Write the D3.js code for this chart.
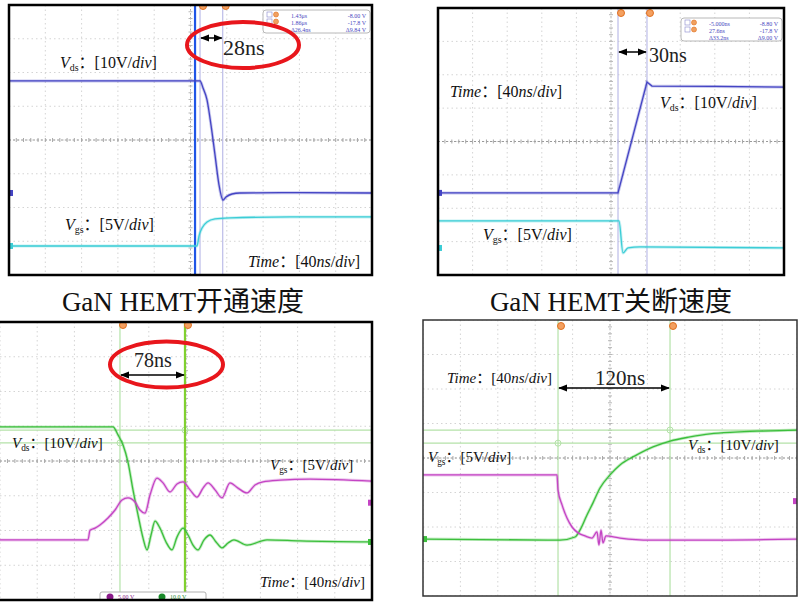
<!DOCTYPE html>
<html>
<head>
<meta charset="utf-8">
<script src="https://cdn.jsdelivr.net/npm/d3@7"></script>
<style>
  body { margin: 0; background: #fff; }
  svg { display: block; }
</style>
</head>
<body>
<div id="chart"></div>
<script>
// scope screens: time in ns (40 ns/div, 10 div), amplitude in screen divisions (8 div)
const captions = ["GaN HEMT开通速度", "GaN HEMT关断速度"];
const timeScale = "40";
const vdsScale = "10V";
const vgsScale = "5V";

// GaN HEMT turn-on, first scope
const onVds = [[-200, 1.75], [10.5, 1.75], [13.8, 1.54], [18.2, 1.19], [22.6, 0.44], [27, -0.44],
  [31.4, -1.33], [35.8, -1.78], [39.1, -1.69], [45.7, -1.6], [54.5, -1.57], [120, -1.56], [200, -1.57]];
const onVgs = [[-200, -3.14], [7.2, -3.14], [9.4, -2.84], [12.7, -2.61], [18.2, -2.43], [27, -2.34],
  [43.5, -2.31], [109.6, -2.28], [200, -2.28]];
const onCursors = [10.5, 35.5];
const onReadout = [["1.43μs", "-8.00 V"], ["1.86μs", "-17.8 V"], ["Δ26.4ns", "Δ9.84 V"]];

// GaN HEMT turn-off, first scope
const offVds = [[-200, -1.54], [8.1, -1.54], [41.6, 1.78], [47.4, 1.66], [120, 1.65], [200, 1.63]];
const offVgs = [[-200, -2.38], [9.2, -2.38], [13.9, -3.34], [19.7, -3.19], [33.5, -3.16], [200, -3.19]];
const offCursors = [8.1, 41.6];
const offReadout = [["-5.000ns", "-8.80 V"], ["27.6ns", "-17.8 V"], ["Δ33.2ns", "Δ9.00 V"]];

// turn-on, second scope (ringing)
const on2Vds = [[-200, 0.98], [-78.5, 0.98], [-73.1, 0.75], [-67.7, 0.46], [-62.4, -0.03], [-57, -0.83],
  [-51.6, -1.55], [-46.2, -2.22], [-41.9, -2.56], [-37.6, -2.13], [-33.3, -1.73], [-28, -1.93],
  [-21.5, -2.33], [-15.1, -2.56], [-9.7, -2.19], [-3.2, -1.93], [2.2, -2.13], [7.5, -2.42],
  [12.9, -2.56], [19.4, -2.27], [25.8, -2.13], [32.3, -2.33], [38.7, -2.5], [45.2, -2.36],
  [51.6, -2.27], [65.6, -2.42], [87.1, -2.27], [122.6, -2.3], [200, -2.33]];
const on2Vgs = [[-200, -2.27], [-105.4, -2.27], [-103.2, -1.99], [-97.8, -1.93], [-92.5, -1.84],
  [-83.9, -1.64], [-76.3, -1.41], [-68.8, -1.12], [-62.4, -1.06], [-54.8, -1.18], [-49.5, -1.41],
  [-44.1, -1.5], [-38.7, -0.98], [-31.2, -0.49], [-24.7, -0.63], [-17.2, -0.89], [-9.7, -0.66],
  [-3.2, -0.6], [4.3, -0.83], [11.8, -1.04], [18.3, -0.78], [23.7, -0.63], [31.2, -0.83],
  [38.7, -1.06], [47.3, -0.63], [55.9, -0.78], [65.6, -0.92], [74.2, -0.69], [82.8, -0.6],
  [101.1, -0.55], [133.3, -0.52], [200, -0.58]];
const on2Cursors = [-71, -1.1];
const on2Levels = [0.89, 0.52];

// turn-off, second scope
const off2Vds = [[-200, -2.35], [-53.5, -2.38], [-37.4, -2.29], [-32.1, -2.09], [-24.6, -1.65],
  [-18.2, -1.3], [-10.7, -0.87], [0, -0.49], [10.7, -0.2], [26.7, 0.06], [46, 0.32], [64.2, 0.49],
  [85.6, 0.61], [107, 0.7], [133.7, 0.75], [160.4, 0.78], [200, 0.81]];
const off2Vgs = [[-200, -0.49], [-56.7, -0.49], [-55.6, -0.93], [-51.3, -1.36], [-46, -1.74],
  [-40.6, -2.0], [-34.2, -2.17], [-26.7, -2.26], [-19.3, -2.32], [-13.9, -2.14], [-11.8, -2.52],
  [-9.6, -2.09], [-7.5, -2.46], [-4.3, -2.26], [10.7, -2.32], [42.8, -2.38], [96.3, -2.38], [200, -2.35]];
const off2Cursors = [-55.6, 64.2];
const off2Levels = [0.81, 0.43];

const width = 800;
const height = 607;
const serif = "'Liberation Serif', 'Noto Sans CJK SC', serif";

const svg = d3.select("#chart").append("svg")
  .attr("width", width)
  .attr("height", height)
  .style("font-family", serif);

const defs = svg.append("defs");
defs.append("marker")
  .attr("id", "arrow")
  .attr("viewBox", "0 0 10 10")
  .attr("refX", 9).attr("refY", 5)
  .attr("markerWidth", 6).attr("markerHeight", 6)
  .attr("orient", "auto-start-reverse")
  .append("path")
  .attr("d", "M0,1 L10,5 L0,9 Z")
  .attr("fill", "#000");

// text with italic / subscript pieces
const addLabel = function(g, px, py, parts, size) {
  const t = g.append("text")
    .attr("x", px).attr("y", py)
    .attr("font-size", size)
    .attr("fill", "#111");
  parts.forEach(p => {
    const s = t.append("tspan").text(p.t);
    if (p.i) s.attr("font-style", "italic");
    if (p.sub) s.attr("font-size", size * 0.62).attr("dy", 3);
    if (p.after) s.attr("dy", -3);
  });
};
const vdsParts = [{t: "V", i: 1}, {t: "ds", sub: 1}, {t: "：[" + vdsScale + "/", after: 1}, {t: "div", i: 1}, {t: "]"}];
const vgsParts = [{t: "V", i: 1}, {t: "gs", sub: 1}, {t: "：[" + vgsScale + "/", after: 1}, {t: "div", i: 1}, {t: "]"}];
const timeParts = [{t: "Time", i: 1}, {t: "：[" + timeScale}, {t: "ns", i: 1}, {t: "/"}, {t: "div", i: 1}, {t: "]"}];

// one oscilloscope screen
const drawScope = function(cfg, idx) {
  const g = svg.append("g");
  const x = d3.scaleLinear().domain([-200, 200]).range([cfg.x0, cfg.x1]);
  const y = d3.scaleLinear().domain([-4, 4]).range([cfg.y1, cfg.y0]);

  defs.append("clipPath").attr("id", "clip" + idx)
    .append("rect")
    .attr("x", cfg.x0).attr("y", cfg.y0)
    .attr("width", cfg.x1 - cfg.x0).attr("height", cfg.y1 - cfg.y0);
  const inner = g.append("g").attr("clip-path", `url(#clip${idx})`);

  // faint dotted graticule
  inner.selectAll("line.gx").data(d3.range(-200, 201, 40)).enter().append("line")
    .attr("x1", d => x(d)).attr("x2", d => x(d))
    .attr("y1", cfg.y0).attr("y2", cfg.y1)
    .attr("stroke", "#d4d4d4").attr("stroke-dasharray", "1.5,3");
  inner.selectAll("line.gy").data(d3.range(-4, 5)).enter().append("line")
    .attr("y1", d => y(d)).attr("y2", d => y(d))
    .attr("x1", cfg.x0).attr("x2", cfg.x1)
    .attr("stroke", "#d4d4d4").attr("stroke-dasharray", "1.5,3");

  // centre lines with minor ticks
  inner.append("line")
    .attr("x1", cfg.x0).attr("x2", cfg.x1).attr("y1", y(0)).attr("y2", y(0))
    .attr("stroke", "#9a9a9a").attr("stroke-dasharray", "2,2");
  inner.append("line")
    .attr("x1", x(0)).attr("x2", x(0)).attr("y1", cfg.y0).attr("y2", cfg.y1)
    .attr("stroke", "#b0b0b0").attr("stroke-dasharray", "1.5,2.5");
  inner.selectAll("line.tx").data(d3.range(-200, 201, 8)).enter().append("line")
    .attr("x1", d => x(d)).attr("x2", d => x(d))
    .attr("y1", y(0) - 2).attr("y2", y(0) + 2)
    .attr("stroke", "#a8a8a8");
  inner.selectAll("line.ty").data(d3.range(-4, 4.01, 0.2)).enter().append("line")
    .attr("y1", d => y(d)).attr("y2", d => y(d))
    .attr("x1", x(0) - 2).attr("x2", x(0) + 2)
    .attr("stroke", "#b8b8b8");

  // horizontal cursors
  (cfg.levels || []).forEach(v => {
    inner.append("line")
      .attr("x1", cfg.x0).attr("x2", cfg.x1).attr("y1", y(v)).attr("y2", y(v))
      .attr("stroke", cfg.cursorColor).attr("stroke-width", 1.2);
  });
  // vertical cursors
  cfg.cursors.forEach(t => {
    inner.append("line")
      .attr("x1", x(t)).attr("x2", x(t)).attr("y1", cfg.y0).attr("y2", cfg.y1)
      .attr("stroke", cfg.cursorColor).attr("stroke-width", 1.2);
  });
  if (cfg.levels) {
    inner.append("circle").attr("cx", x(cfg.cursors[0])).attr("cy", y(cfg.levels[1])).attr("r", 3)
      .attr("fill", "none").attr("stroke", cfg.cursorColor);
    inner.append("circle").attr("cx", x(cfg.cursors[1])).attr("cy", y(cfg.levels[0])).attr("r", 3)
      .attr("fill", "none").attr("stroke", cfg.cursorColor);
  }
  if (cfg.marker != null) {
    inner.append("line")
      .attr("x1", x(cfg.marker.t)).attr("x2", x(cfg.marker.t))
      .attr("y1", cfg.y0).attr("y2", cfg.y1)
      .attr("stroke", cfg.marker.color).attr("stroke-width", cfg.marker.w);
  }
  // cursor flags at the top
  cfg.cursors.forEach(t => {
    inner.append("circle").attr("cx", x(t) + 3).attr("cy", cfg.y0 + cfg.flagDy).attr("r", 3.5)
      .attr("fill", "#f4a060").attr("stroke", "#e07020").attr("stroke-width", 1);
  });

  // traces
  cfg.traces.forEach(tr => {
    const line = d3.line().x(d => x(d[0])).y(d => y(d[1]))
      .curve(tr.straight ? d3.curveLinear : d3.curveMonotoneX);
    inner.append("path").datum(tr.data)
      .attr("d", line).attr("fill", "none")
      .attr("stroke", tr.color).attr("stroke-width", 3).attr("stroke-opacity", 0.3);
    inner.append("path").datum(tr.data)
      .attr("d", line).attr("fill", "none")
      .attr("stroke", tr.color).attr("stroke-width", 1.3);
    // channel marker at the edge
    inner.append("rect")
      .attr("x", tr.edge === "left" ? cfg.x0 - 1 : cfg.x1 - 4)
      .attr("y", y(tr.edgeV) - 3).attr("width", 5).attr("height", 6)
      .attr("fill", tr.color);
  });

  // measurement readout
  if (cfg.readout) {
    const r = cfg.readout;
    const rb = inner.append("g");
    rb.append("rect").attr("x", r.x).attr("y", r.y).attr("width", r.w).attr("height", 23)
      .attr("rx", 3).attr("fill", "#fff").attr("stroke", "#b8b8b8");
    r.rows.forEach((row, i) => {
      if (i < 2) {
        rb.append("rect").attr("x", r.x + 4).attr("y", r.y + 2 + i * 7).attr("width", 5).attr("height", 5)
          .attr("fill", "none").attr("stroke", "#8888cc").attr("stroke-width", 0.6);
        rb.append("circle").attr("cx", r.x + 13).attr("cy", r.y + 4.5 + i * 7).attr("r", 2.5)
          .attr("fill", "#f0a060").attr("stroke", "#e07020").attr("stroke-width", 0.6);
      }
      rb.append("text").attr("x", r.x + 28).attr("y", r.y + 8 + i * 7).attr("font-size", 6)
        .attr("fill", "#4848c0").text(row[0]);
      rb.append("text").attr("x", r.x + r.w - 4).attr("y", r.y + 8 + i * 7).attr("font-size", 6)
        .attr("text-anchor", "end").attr("fill", "#4848c0").text(row[1]);
    });
  }

  // channel status strip
  if (cfg.status) {
    const s = inner.append("g");
    s.append("rect").attr("x", 100).attr("y", cfg.y1 - 8).attr("width", 106).attr("height", 12)
      .attr("rx", 2).attr("fill", "#fff").attr("stroke", "#b0b0b0");
    cfg.status.forEach((st, i) => {
      s.append("circle").attr("cx", 110 + i * 52).attr("cy", cfg.y1 - 3).attr("r", 3.5).attr("fill", st.color);
      s.append("text").attr("x", 118 + i * 52).attr("y", cfg.y1 - 1).attr("font-size", 6)
        .attr("fill", st.color).text(st.text);
    });
  }

  // frame
  g.append("rect")
    .attr("x", cfg.fx0).attr("y", cfg.y0)
    .attr("width", cfg.x1 - cfg.fx0).attr("height", cfg.y1 - cfg.y0)
    .attr("fill", "none").attr("stroke", cfg.frameColor).attr("stroke-width", cfg.frameW);

  // delta annotation
  const a = cfg.arrow;
  g.append("line")
    .attr("x1", x(cfg.cursors[0]) + 1).attr("x2", x(cfg.cursors[1]) - 1)
    .attr("y1", a.y).attr("y2", a.y)
    .attr("stroke", "#000").attr("stroke-width", 1.5)
    .attr("marker-start", "url(#arrow)").attr("marker-end", "url(#arrow)");
  g.append("text")
    .attr("x", a.tx).attr("y", a.ty)
    .attr("font-size", a.size)
    .attr("text-anchor", a.anchor)
    .attr("fill", "#222")
    .text(a.label);
  if (cfg.ellipse) {
    g.append("ellipse")
      .attr("cx", cfg.ellipse[0]).attr("cy", cfg.ellipse[1])
      .attr("rx", cfg.ellipse[2]).attr("ry", cfg.ellipse[3])
      .attr("fill", "none").attr("stroke", "#e8161c").attr("stroke-width", 4);
  }

  addLabel(g, cfg.vds[0], cfg.vds[1], vdsParts, cfg.fs);
  addLabel(g, cfg.vgs[0], cfg.vgs[1], vgsParts, cfg.fs);
  addLabel(g, cfg.time[0], cfg.time[1], timeParts, cfg.fs);
};

const blueVds = "#4444c4";
const cyanVgs = "#3ccdd6";
const greenVds = "#3cbf3c";
const pinkVgs = "#c444c4";

const scopes = [
  {
    x0: 9, x1: 372, fx0: 9, y0: 5, y1: 275, frameColor: "#000", frameW: 2.5, fs: 16, flagDy: 1,
    cursors: onCursors, cursorColor: "#bcbce8",
    marker: {t: 5, color: "#1f55e6", w: 2.2},
    traces: [
      {data: onVds, color: blueVds, edge: "left", edgeV: -1.57},
      {data: onVgs, color: cyanVgs, edge: "left", edgeV: -3.14}
    ],
    readout: {x: 263, y: 10, w: 107, rows: onReadout},
    arrow: {y: 38, tx: 223, ty: 55, size: 22, anchor: "start", label: "28ns"},
    ellipse: [243, 45, 56, 23],
    vds: [60, 68], vgs: [65, 230], time: [248, 267]
  },
  {
    x0: 438, x1: 784, fx0: 438, y0: 8, y1: 275, frameColor: "#000", frameW: 2.5, fs: 16, flagDy: 5,
    cursors: offCursors, cursorColor: "#bcbce8",
    traces: [
      {data: offVds, color: blueVds, edge: "left", edgeV: -1.54, straight: true},
      {data: offVgs, color: cyanVgs, edge: "left", edgeV: -3.19}
    ],
    readout: {x: 681, y: 18, w: 101, rows: offReadout},
    arrow: {y: 52, tx: 649, ty: 62, size: 20, anchor: "start", label: "30ns"},
    vds: [660, 108], vgs: [483, 240], time: [450, 97]
  },
  {
    x0: 0, x1: 372, fx0: -4, y0: 322, y1: 600, frameColor: "#000", frameW: 2.5, fs: 15, flagDy: 3,
    cursors: on2Cursors, levels: on2Levels, cursorColor: "#b4e2a8",
    marker: {t: -1.1, color: "#80d030", w: 2.2},
    traces: [
      {data: on2Vds, color: greenVds, edge: "right", edgeV: -2.33},
      {data: on2Vgs, color: pinkVgs, edge: "right", edgeV: -1.2}
    ],
    status: [{color: "#8a1a8a", text: "5.00 V"}, {color: "#1a8a2a", text: "10.0 V"}],
    arrow: {y: 375, tx: 153, ty: 367, size: 20, anchor: "middle", label: "78ns"},
    ellipse: [166.5, 364.5, 56.5, 23],
    vds: [12, 448], vgs: [270, 470], time: [260, 587]
  },
  {
    x0: 423, x1: 797, fx0: 423, y0: 320, y1: 596, frameColor: "#333", frameW: 1.5, fs: 15, flagDy: 6,
    cursors: off2Cursors, levels: off2Levels, cursorColor: "#b4e2a8",
    traces: [
      {data: off2Vds, color: greenVds, edge: "left", edgeV: -2.35},
      {data: off2Vgs, color: pinkVgs, edge: "right", edgeV: -1.25}
    ],
    arrow: {y: 388, tx: 620, ty: 385, size: 21, anchor: "middle", label: "120ns"},
    vds: [688, 450], vgs: [428, 462], time: [447, 383]
  }
];

scopes.forEach((cfg, i) => drawScope(cfg, i));

// captions under the upper pair
svg.selectAll("text.caption").data(captions).enter().append("text")
  .attr("class", "caption")
  .attr("x", (d, i) => i === 0 ? 183 : 611)
  .attr("y", 311)
  .attr("text-anchor", "middle")
  .attr("font-size", 27)
  .attr("fill", "#111")
  .text(d => d);
</script>
</body>
</html>
